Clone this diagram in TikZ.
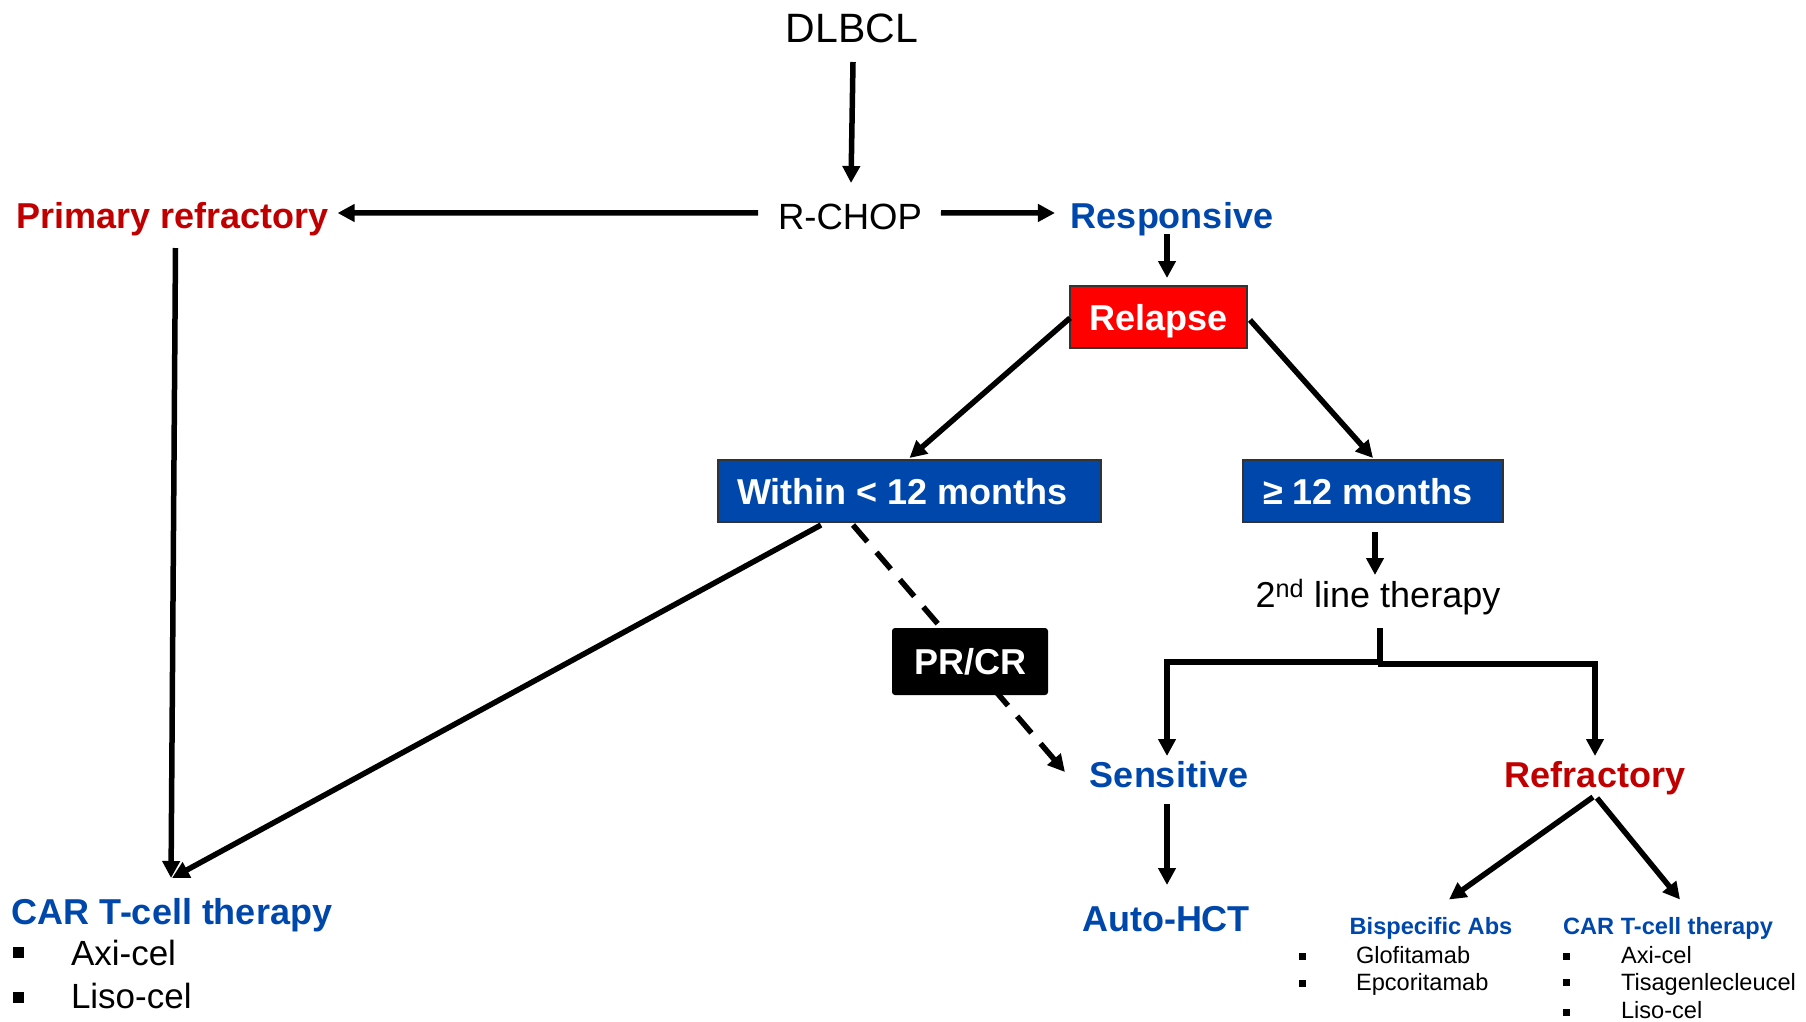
\documentclass[tikz,border=0pt]{standalone}
\usepackage{fontspec}
\setmainfont{Liberation Sans}
\usetikzlibrary{arrows.meta}
\definecolor{myblue}{RGB}{0,71,171}
\definecolor{myred}{RGB}{192,0,0}
\definecolor{boxred}{RGB}{255,0,0}
\newcommand{\fsz}[1]{\fontsize{#1}{#1}\selectfont}
\begin{document}
\begin{tikzpicture}[x=1pt,y=-1pt,
  every node/.style={inner sep=0pt, outer sep=0pt},
  big/.style={font=\fsz{36}\bfseries, text height=26pt, text depth=0pt},
  plain/.style={font=\fsz{36}, text height=26pt, text depth=0pt},
  bluetxt/.style={big, text=myblue},
  redtxt/.style={big, text=myred},
  bluebox/.style={big, fill=myblue, draw=black!80, line width=1.5pt, text=white},
  redbox/.style={big, fill=boxred, draw=black!80, line width=1.5pt, text=white},
  blackbox/.style={big, fill=black, rounded corners=3pt, text=white},
  small/.style={font=\fsz{23.6}, text height=17pt, text depth=0pt},
  smallb/.style={font=\fsz{23.6}\bfseries, text height=17pt, text depth=0pt, text=myblue},
  listtxt/.style={font=\fsz{35}, text height=25pt, text depth=0pt},
  sq/.style={fill=black, minimum size=#1, inner sep=0pt},
  arr/.style={line width=5.5pt, -{Triangle[length=17pt,width=17pt]}},
  dasharr/.style={arr, dash pattern=on 22pt off 14pt},
  seg/.style={line width=5.5pt}
]
\useasboundingbox (0,0) rectangle (1806,1021);

% nodes
\node[font=\fsz{41}, text height=29.5pt, text depth=0pt, anchor=base] (dlbcl) at (852,42) {DLBCL};
\node[font=\fsz{36.5}, text height=26.5pt, text depth=0pt, anchor=base] (rchop) at (850,229) {R-CHOP};
\node[redtxt, anchor=base] (prim) at (172.5,228) {Primary refractory};
\node[bluetxt, anchor=base] (resp) at (1172,228) {Responsive};
\node[redbox, minimum width=177pt, minimum height=62pt] (relapse) at (1158.5,317) {Relapse};
\node[bluebox, minimum width=383pt, minimum height=62pt] (within) at (909.5,491) {Within < 12 months\kern14pt};
\node[bluebox, minimum width=260pt, minimum height=62pt] (ge) at (1373,491) {≥ 12 months\kern10pt};
\node[plain, anchor=base] (second) at (1378,607) {2\textsuperscript{nd} line therapy};
\coordinate (jn) at (1380,663);
\node[bluetxt, anchor=base] (sens) at (1169,787) {Sensitive};
\node[redtxt, anchor=base] (refr) at (1595,787) {Refractory};
\node[bluetxt, anchor=base] (auto) at (1166,931) {Auto-HCT};
\node[bluetxt, anchor=base west] (carl) at (12,924) {CAR T-cell therapy};
\node[sq=11pt] (bl1) at (18.5,952) {};
\node[sq=11pt] (bl2) at (18.5,997) {};
\node[listtxt, anchor=base west] (la1) at (71,965) {Axi-cel};
\node[listtxt, anchor=base west] (la2) at (71,1008) {Liso-cel};
\node[smallb, anchor=base] (bisp) at (1431,934) {Bispecific Abs};
\node[smallb, anchor=base] (carr) at (1668,934) {CAR T-cell therapy};
\node[sq=7pt] (bb1) at (1302,956) {};
\node[sq=7pt] (bb2) at (1302,983) {};
\node[small, anchor=base west] (b1) at (1356,963) {Glofitamab};
\node[small, anchor=base west] (b2) at (1356,990) {Epcoritamab};
\node[sq=7pt] (cb1) at (1566,956) {};
\node[sq=7pt] (cb2) at (1566,982) {};
\node[sq=7pt] (cb3) at (1566,1012) {};
\node[small, anchor=base west] (c1) at (1621,963) {Axi-cel};
\node[small, anchor=base west] (c2) at (1621,990) {Tisagenlecleucel};
\node[small, anchor=base west] (c3) at (1621,1018) {Liso-cel};

% connectors
\draw[arr] ([shift={(1,20)}]dlbcl.south) -- ([shift={(1,-19.5)}]rchop.north);
\draw[arr] ([shift={(-20,-3)}]rchop.west) -- ([shift={(9,-2)}]prim.east);
\draw[arr] ([shift={(19,-3)}]rchop.east) -- ([shift={(-16,-2)}]resp.west);
\draw[arr] ([shift={(-5,6)}]resp.south) -- ([shift={(8.5,-8)}]relapse.north);
\draw[arr] ([shift={(0,1)}]relapse.west) -- ([shift={(0,-2)}]within.north);
\draw[arr] ([shift={(3,3)}]relapse.east) -- ([shift={(0,-2)}]ge.north);
\draw[arr] ([shift={(2,10)}]ge.south) -- ([shift={(-3,-6)}]second.north);
\draw[seg] ([shift={(2,21)}]second.south) -- (jn);
\draw[arr] ([shift={(3,-1)}]jn) -| ([shift={(-2,-5)}]sens.north);
\draw[arr] ([shift={(-2.5,1)}]jn) -| ([shift={(0,-5)}]refr.north);
\draw[arr] ([shift={(-2,17)}]sens.south) -- ([shift={(1,-20)}]auto.north);
\draw[arr] ([shift={(-2,10)}]refr.south) -- ([shift={(18,-17.5)}]bisp.north);
\draw[arr] ([shift={(2,11)}]refr.south) -- ([shift={(12,-17.5)}]carr.north);
\draw[arr] ([shift={(-88.5,3)}]within.south) -- ([shift={(0,-20)}]carl.north);
\draw[arr] ([shift={(3,20)}]prim.south) -- ([shift={(-1,-20)}]carl.north);
\draw[dasharr] ([shift={(-56.5,3)}]within.south) -- ([shift={(-25,-2)}]sens.west);

\node[blackbox, minimum width=156pt, minimum height=67pt] (prcr) at (970,661.5) {PR/CR};
\end{tikzpicture}
\end{document}
